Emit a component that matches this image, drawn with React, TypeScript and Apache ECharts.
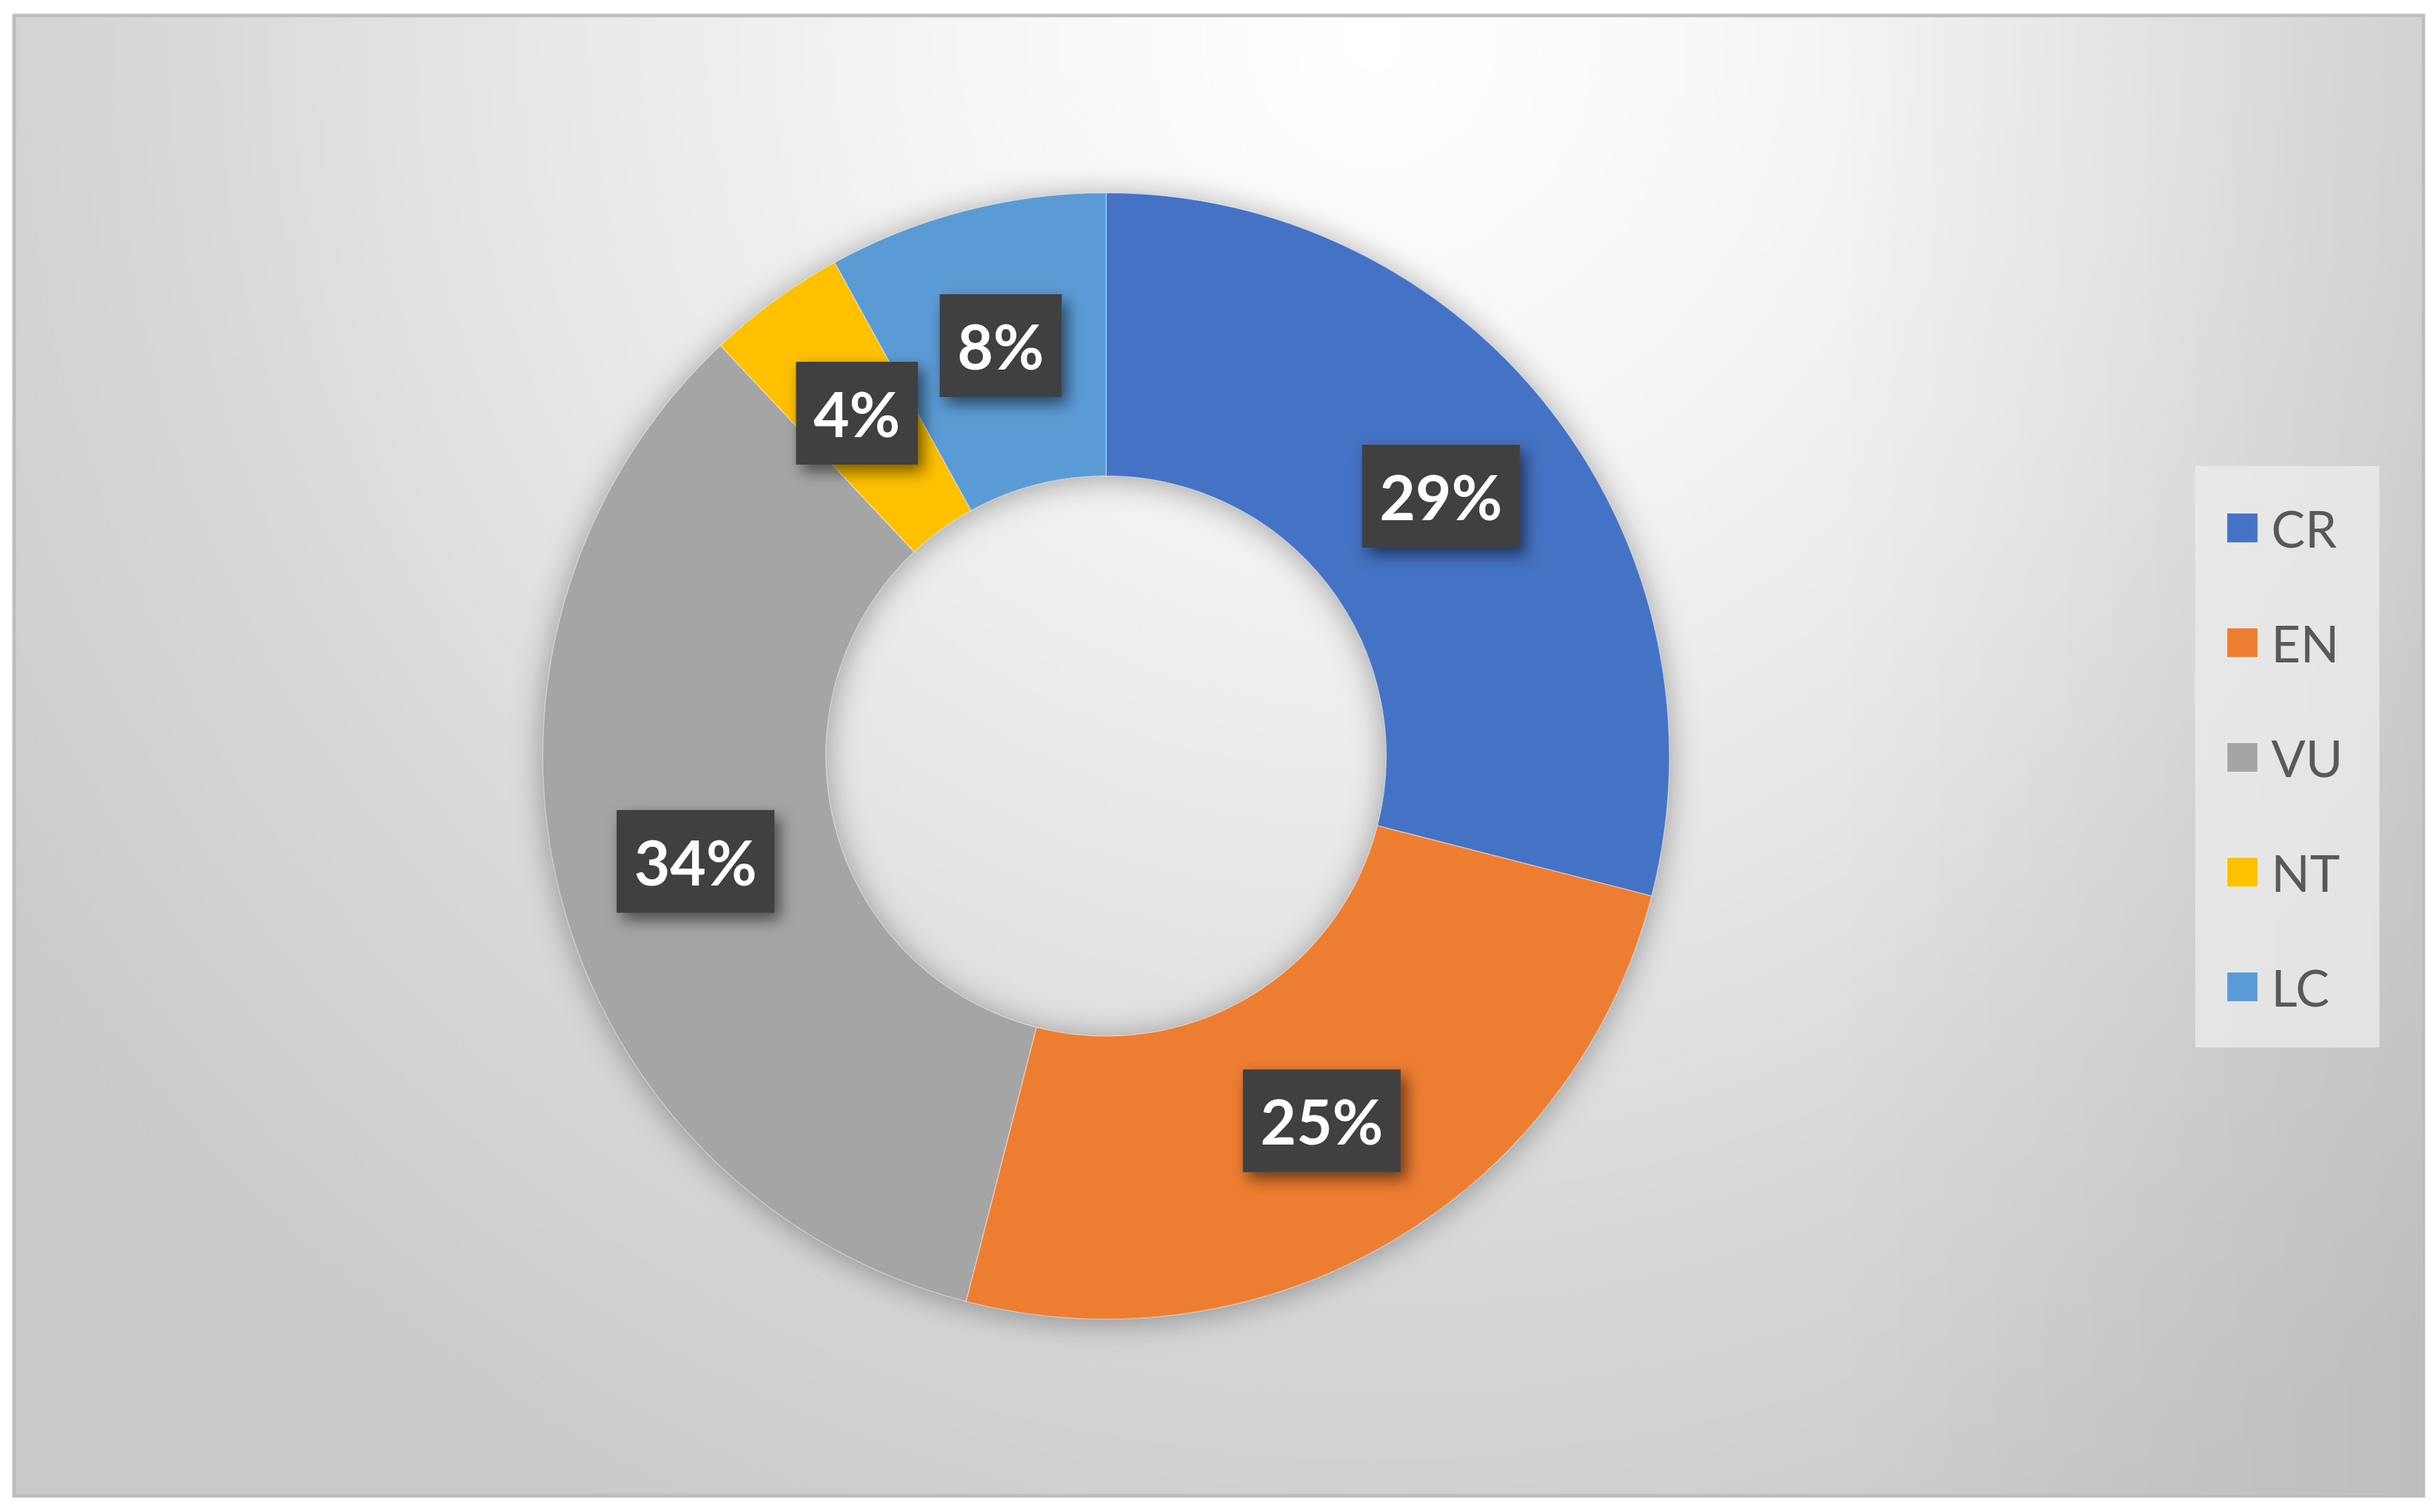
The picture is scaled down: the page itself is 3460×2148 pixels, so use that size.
import React, { useEffect, useRef } from "react";
import * as echarts from "echarts";

const categories = ["CR", "EN", "VU", "NT", "LC"];
const percentValues = [29, 25, 34, 4, 8];
const sliceColors = ["#4472C4", "#ED7D31", "#A5A5A5", "#FFC000", "#5B9BD5"];

const W = 3460;
const H = 2148;
const FRAME = { x: 20, y: 22, w: 3422, h: 2103 };
const CENTER = [1571, 1074];

export default function App() {
  const ref = useRef<HTMLDivElement>(null);

  useEffect(() => {
    if (!ref.current) return;
    const chart = echarts.init(ref.current, null, { renderer: "svg" });

    const pieData = categories.map((name, i) => ({
      name,
      value: percentValues[i],
      itemStyle: { color: sliceColors[i] },
    }));

    chart.setOption({
      animation: false,
      backgroundColor: "#ffffff",
      graphic: [
        {
          type: "rect",
          z: -10,
          shape: { x: FRAME.x, y: FRAME.y, width: FRAME.w, height: FRAME.h },
          style: {
            fill: {
              type: "radial",
              x: 1950,
              y: 60,
              r: 2350,
              global: true,
              colorStops: [
                { offset: 0, color: "#ffffff" },
                { offset: 0.2, color: "#f8f8f8" },
                { offset: 0.45, color: "#ebebeb" },
                { offset: 0.75, color: "#d7d7d7" },
                { offset: 1, color: "#cacaca" },
              ],
            },
            stroke: "#bdbdbd",
            lineWidth: 5,
          },
        },
        {
          type: "rect",
          z: -9,
          silent: true,
          shape: { x: 2600, y: FRAME.y + 3, width: FRAME.x + FRAME.w - 2603, height: FRAME.h - 6 },
          style: {
            fill: {
              type: "linear",
              x: 0,
              y: 0,
              x2: 1,
              y2: 0,
              colorStops: [
                { offset: 0, color: "rgba(0,0,0,0)" },
                { offset: 1, color: "rgba(0,0,0,0.06)" },
              ],
            },
          },
        },
      ],
      legend: {
        orient: "vertical",
        left: 3118,
        top: 662,
        data: categories,
        icon: "rect",
        itemWidth: 44,
        itemHeight: 42,
        itemGap: 91,
        padding: [52, 52, 50, 44],
        backgroundColor: "rgba(236,236,236,0.75)",
        selectedMode: false,
        textStyle: {
          fontFamily: "Lato",
          fontSize: 72,
          color: "#595959",
          lineHeight: 72,
          padding: [0, 0, 0, 14],
        },
      },
      series: [
        {
          type: "pie",
          silent: true,
          center: CENTER,
          radius: [398, 800],
          startAngle: 90,
          z: 1,
          label: { show: false },
          labelLine: { show: false },
          itemStyle: {
            color: "#9a9a9a",
            shadowBlur: 45,
            shadowColor: "rgba(0,0,0,0.35)",
            shadowOffsetX: 0,
            shadowOffsetY: 4,
          },
          data: [{ name: "_shadow", value: 1 }],
          legendHoverLink: false,
        },
        {
          type: "pie",
          center: CENTER,
          radius: [398, 800],
          startAngle: 90,
          clockwise: true,
          z: 2,
          itemStyle: {
            borderColor: "rgba(255,255,255,0.4)",
            borderWidth: 1.5,
          },
          label: {
            show: true,
            position: "inside",
            formatter: (p: any) => `${p.value}%`,
            color: "#ffffff",
            fontFamily: "Lato",
            fontWeight: "bold",
            fontSize: 88,
            lineHeight: 100,
            backgroundColor: "#404040",
            padding: [23, 25, 23, 25],
            shadowColor: "rgba(0,0,0,0.55)",
            shadowBlur: 22,
            shadowOffsetX: 8,
            shadowOffsetY: 10,
          },
          labelLine: { show: false },
          data: pieData,
        },
      ],
    });

    return () => chart.dispose();
  }, []);

  return (
    <div
      ref={ref}
      style={{ position: "absolute", left: 0, top: 0, width: W, height: H }}
    />
  );
}
